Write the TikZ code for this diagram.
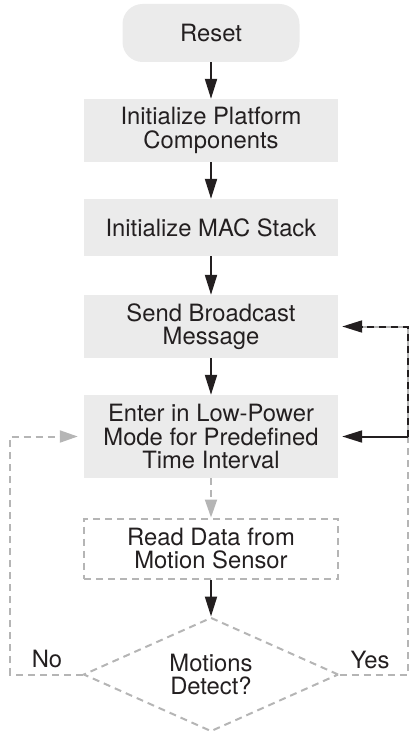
\documentclass[tikz,border=0pt]{standalone}
\usepackage{fontspec}
\setmainfont{TeX Gyre Heros}
\usetikzlibrary{arrows.meta,shapes.geometric}
\definecolor{boxgray}{HTML}{EBEBEB}
\definecolor{dashgray}{HTML}{B5B5B5}
\definecolor{ink}{HTML}{231F20}
\begin{document}
\begin{tikzpicture}[x=1pt,y=1pt,
  every node/.style={font=\fontsize{23.8}{23.5}\selectfont, text=ink, align=center},
  procbox/.style={fill=boxgray, minimum width=254pt, inner sep=0pt},
  dashstyle/.style={dash pattern=on 7pt off 5pt},
  arr/.style={draw=ink, line width=2pt, -{Triangle[length=20pt,width=12pt]}},
  garr/.style={draw=dashgray, line width=2pt, dashstyle, -{Triangle[length=18pt,width=12pt]}},
  gline/.style={draw=dashgray, line width=2pt, dashstyle},
]
\useasboundingbox (0,0) rectangle (410,-738);

\node[procbox, rounded corners=20pt, minimum width=177pt, minimum height=58pt] (reset) at (211,-33) {Reset};
\node[procbox, minimum height=63pt] (plat) at (211,-130.5) {Initialize Platform\\Components};
\node[procbox, minimum height=57pt] (mac) at (211,-227.5) {Initialize MAC Stack};
\node[procbox, minimum height=63pt] (send) at (211,-326.5) {Send Broadcast\\Message};
\node[procbox, minimum height=83pt] (enter) at (211,-436.5) {Enter in Low-Power\\Mode for Predefined\\Time Interval};
\node[gline, minimum width=254pt, minimum height=60pt, inner sep=0pt] (read) at (211,-548.5) {Read Data from\\Motion Sensor};
\node[gline, diamond, aspect=2.2, inner sep=0pt, minimum width=255pt, minimum height=114pt] (dec) at (211,-674.5) {Motions\\Detect?};

\node (no) at (47,-659) {No};
\node (yes) at (370,-660) {Yes};

\coordinate (rx) at (408,0);
\coordinate (lx) at (10,0);

\draw[arr] (reset) -- (plat);
\draw[arr] (plat) -- (mac);
\draw[arr] (mac) -- (send);
\draw[arr] (send) -- (enter);
\draw[garr] (enter) -- (read);
\draw[arr] (read) -- (dec);

% right loop (Yes)
\draw[gline] (dec.east) -| (rx |- enter.east);
\draw[dashgray, line width=2pt, shorten >=22pt] (rx |- enter.east) |- (send.east);
\draw[arr, dashstyle, shorten >=4pt] (rx |- enter.east) |- (send.east);
\draw[arr, shorten >=4pt] (rx |- enter.east) -- (enter.east);

% left loop (No)
\draw[garr, shorten >=6pt] (dec.west) -| (lx |- enter.west) -- (enter.west);
\end{tikzpicture}
\end{document}
